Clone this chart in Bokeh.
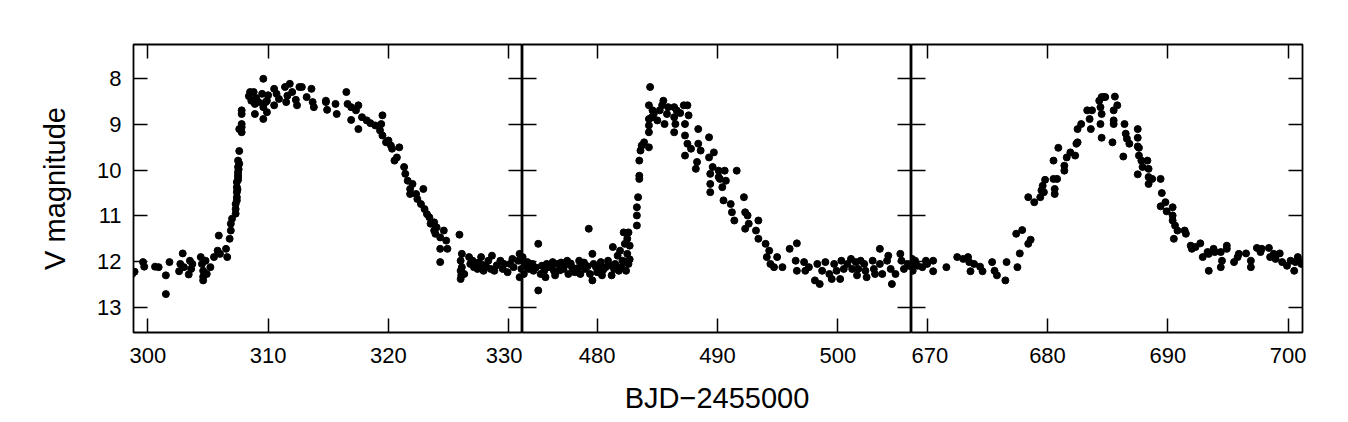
from bokeh.plotting import figure
from bokeh.models import Range1d, FixedTicker, LinearAxis, InlineStyleSheet
from bokeh.layouts import row
from bokeh.embed import file_html
from bokeh.resources import INLINE

# ---------------- data ----------------
p1_day = [298.7, 298.9, 299.6, 299.7, 300.6, 300.9, 301.5, 301.5, 301.8, 302.6, 302.7, 302.9,
          303.0, 303.4, 303.5, 303.6, 303.7, 304.4, 304.5, 304.6, 304.6, 304.6, 304.8, 304.9,
          305.2, 305.5, 305.8, 305.9, 306.0, 306.5, 306.6, 306.8, 306.9, 306.9, 307.0, 307.3,
          307.3, 307.4, 307.4, 307.4, 307.4, 307.5, 307.5, 307.5, 307.5, 307.6, 307.3, 307.4,
          307.45, 307.5, 307.5, 307.55, 307.6, 307.6, 307.8, 307.8, 307.8, 307.8, 307.8,
          308.5, 308.8, 308.6, 308.9, 308.9, 309.2, 309.5, 309.6, 309.6, 309.6, 309.8, 309.9,
          309.9, 310.5, 310.5, 310.7, 311.4, 311.5, 311.6, 311.8, 312.0, 312.3, 312.4, 312.6,
          312.8, 313.6, 313.7, 313.8, 314.8, 314.9, 314.8, 315.6, 315.7, 316.5, 316.6, 316.9,
          316.9, 317.3, 317.5, 317.5, 317.8, 318.2, 318.5, 319.4, 319.5, 319.3, 319.5, 319.8,
          320.0, 320.3, 320.5, 320.7, 320.9, 321.3, 321.4, 321.6, 321.8, 321.8, 322.3, 322.4,
          322.7, 322.9, 323.2, 323.4, 323.5, 323.8, 323.8, 323.9, 324.3, 324.6, 324.8, 324.9,
          325.9, 324.3, 324.3, 326.0, 326.0, 326.0, 326.1, 326.1, 326.3, 326.7, 326.8, 327.0,
          327.1, 327.4, 327.7, 327.8, 327.9, 328.3, 328.5, 328.6, 328.8, 329.3, 329.5, 329.6,
          329.9, 330.3, 330.4, 330.8, 330.9, 331.05, 330.9,
          308.4, 309.0, 310.0, 310.9, 313.2, 318.9, 320.2, 322.0, 323.0, 324.0, 326.05, 327.5,
          328.1, 329.0, 330.1]
p1_mag = [12.27, 12.22, 12.01, 12.11, 12.11, 12.12, 12.30, 12.71, 12.01, 12.21, 12.05, 11.82,
          12.12, 12.28, 11.98, 12.16, 12.05, 11.90, 12.05, 12.20, 12.41, 12.33, 11.98, 12.27,
          12.12, 11.90, 11.76, 11.43, 11.83, 11.72, 11.90, 11.50, 11.32, 11.17, 11.06, 10.85,
          10.74, 10.59, 10.48, 10.37, 10.26, 10.15, 10.04, 9.93, 9.79, 9.58, 10.95, 10.66,
          10.42, 10.21, 10.10, 9.98, 9.86, 9.10, 9.06, 9.17, 8.99, 8.77, 8.69,
          8.29, 8.29, 8.48, 8.55, 8.77, 8.51, 8.33, 8.00, 8.62, 8.88, 8.51, 8.73,
          8.48, 8.22, 8.58, 8.33, 8.18, 8.51, 8.37, 8.11, 8.29, 8.46, 8.58, 8.18,
          8.18, 8.22, 8.51, 8.62, 8.51, 8.68, 8.48, 8.55, 8.77, 8.29, 8.55, 8.62,
          8.90, 8.69, 8.58, 9.10, 8.84, 8.91, 8.97, 8.99, 8.80, 9.13, 9.24, 9.39,
          9.35, 9.53, 9.79, 9.72, 9.50, 9.93, 10.08, 10.23, 10.41, 10.52, 10.52, 10.63,
          10.74, 10.41, 10.96, 11.03, 11.17, 11.14, 11.32, 11.39, 11.47, 11.32, 11.54, 11.72,
          11.41, 11.72, 12.01, 11.98, 12.20, 12.38, 11.83, 12.12, 12.27, 11.90, 12.05, 11.98,
          12.12, 12.16, 11.90, 12.07, 12.20, 11.98, 12.16, 11.87, 12.20, 11.98, 12.16, 12.05,
          12.23, 11.94, 12.12, 11.98, 11.83, 12.16, 12.34,
          8.38, 8.42, 8.36, 8.44, 8.40, 9.02, 9.46, 10.30, 10.85, 11.25, 12.30, 12.02,
          12.10, 12.08, 12.05]

p2_day = [473.8, 473.8, 473.9, 474.2, 474.3, 474.6, 474.7, 475.1, 475.1, 475.3, 475.4, 475.7,
          476.0, 476.3, 476.4, 476.5, 476.7, 477.2, 477.5, 477.6, 477.9, 478.2, 478.5, 478.6,
          478.7, 479.0, 479.3, 479.4, 479.6, 479.6, 479.7, 480.0, 480.3, 480.4, 480.7, 480.9,
          481.2, 481.3, 481.5, 481.7, 481.8, 481.9, 482.1, 482.2, 482.3, 482.4, 482.5, 482.5,
          482.6, 482.6, 474.0, 474.9, 475.8, 476.9, 477.0, 477.8, 478.0, 478.9, 479.9, 480.5,
          481.0, 482.0, 482.7, 482.7,
          483.3, 483.3, 483.3, 483.4, 483.5, 483.5, 483.5, 483.6, 483.7, 483.9, 484.3, 484.3,
          484.3, 484.3, 484.4, 484.3, 484.6, 484.7, 485.0, 485.2, 485.4, 485.5, 485.6, 485.8,
          486.4, 486.4, 486.5, 486.4, 486.6, 487.2, 487.3, 487.3, 487.5, 487.6, 487.5, 487.3,
          487.8, 488.2, 488.3, 488.4, 488.4, 488.6, 489.3, 489.3, 489.4, 489.4, 489.4, 489.6,
          489.7, 490.1, 490.1, 490.2, 490.4, 490.6, 490.7, 490.5, 491.1, 491.2, 491.4, 491.6,
          492.3, 492.2, 492.5, 492.6, 492.3, 493.2, 493.4, 493.4, 494.0, 494.1, 494.3, 494.4,
          494.7, 494.96, 495.4, 496.0, 496.6, 496.5, 496.6, 497.2, 497.3, 497.6, 498.1, 498.3,
          498.5, 498.7, 498.97, 499.3, 499.5, 499.7, 499.9, 500.2, 500.3, 500.5, 500.8, 501.1,
          501.2, 501.5, 501.6, 501.7, 501.9, 502.2, 502.3, 502.4, 502.9, 503.0, 503.1, 503.5,
          503.5, 503.7, 504.1, 504.2, 504.4, 504.5, 504.8, 505.2, 505.3, 505.5, 505.8, 506.05,
          474.4, 475.6, 476.2, 477.4, 478.4, 479.2, 480.2, 481.4, 482.3, 484.5, 485.9, 486.9]
p2_mag = [11.90, 12.09, 12.27, 12.01, 12.16, 12.05, 12.20, 11.61, 12.63, 12.27, 12.09, 12.34,
          12.12, 12.01, 12.20, 12.30, 12.05, 12.16, 11.98, 12.27, 12.12, 12.23, 11.98, 12.27,
          12.09, 12.16, 11.28, 12.27, 11.83, 12.41, 12.05, 12.23, 12.01, 12.30, 12.12, 11.98,
          12.30, 11.68, 12.05, 11.87, 12.20, 11.76, 11.98, 11.36, 11.61, 12.20, 11.50, 11.83,
          11.36, 12.05, 12.10, 12.13, 12.05, 12.19, 12.02, 12.04, 12.22, 12.02, 12.12, 12.18,
          12.08, 12.12, 11.95, 11.65,
          11.21, 10.99, 10.81, 10.59, 10.19, 10.12, 9.79, 9.57, 9.46, 9.39, 9.50, 9.17,
          9.02, 8.88, 8.18, 8.58, 8.69, 8.77, 8.91, 8.69, 8.58, 8.48, 8.99, 8.77,
          8.62, 8.84, 8.99, 9.17, 8.69, 8.58, 8.99, 9.24, 8.58, 8.80, 9.42, 9.68,
          9.53, 9.97, 9.82, 9.10, 9.42, 9.57, 9.28, 9.72, 10.08, 10.30, 10.48, 9.93,
          9.61, 10.15, 10.01, 10.19, 10.37, 10.01, 10.23, 10.66, 10.74, 10.92, 11.10, 10.01,
          10.92, 10.59, 10.99, 11.17, 11.28, 11.32, 11.10, 11.50, 11.61, 11.90, 11.76, 12.05,
          12.12, 11.90, 12.12, 11.72, 11.60, 11.98, 12.20, 12.01, 12.20, 12.12, 12.41, 12.05,
          12.49, 12.20, 12.01, 12.27, 12.38, 12.05, 12.20, 12.38, 11.98, 12.16, 12.05, 11.94,
          12.16, 12.01, 12.30, 12.16, 11.98, 12.05, 12.20, 12.34, 11.98, 12.16, 12.27, 11.72,
          12.05, 12.27, 11.98, 11.87, 12.16, 12.49, 12.27, 11.83, 11.98, 12.16, 12.05, 12.10,
          12.14, 12.20, 12.09, 12.06, 12.14, 12.10, 12.12, 12.16, 12.00, 8.85, 8.62, 8.75]

p3_day = [668.75, 668.9, 668.8, 669.0, 669.2, 669.6, 669.9, 670.0, 670.5, 670.5, 671.6, 672.5,
          673.0, 673.4, 673.5, 673.6, 673.9, 674.4, 674.6, 675.4, 675.6, 675.8, 676.5, 676.6,
          677.5, 677.4, 677.7, 677.9, 678.4, 678.6, 678.4, 678.9, 679.4, 679.5, 679.6, 679.8,
          679.7, 680.5, 680.6, 680.6, 680.5, 680.8, 680.9, 681.4, 681.4, 681.6, 681.9, 682.3,
          682.4, 682.5, 682.5, 682.8, 683.3, 683.5, 683.6, 683.7, 684.3, 684.4, 684.5, 684.5,
          684.7, 684.4, 684.5, 684.8, 685.6, 685.8, 685.5, 685.5, 685.5, 685.4, 686.4, 686.5,
          686.6, 686.8, 686.3, 687.5, 687.5, 687.5, 687.6, 687.6, 687.5, 687.8, 687.9, 688.3,
          688.4, 688.4, 688.4, 688.7, 689.4, 689.5, 689.4, 689.8, 689.9, 690.4, 690.4, 690.4,
          690.6, 690.5, 690.8, 691.4, 691.5, 691.9, 692.0, 692.3, 692.7, 692.9, 693.3, 693.4,
          693.4, 693.8, 693.9, 694.4, 694.5, 694.4, 694.9, 694.9, 695.5, 695.8, 695.9, 696.5,
          696.9, 696.9, 697.4, 697.7, 697.8, 698.4, 698.5, 698.8, 698.95, 699.3, 699.5, 699.9,
          700.2, 700.5, 700.6, 700.8, 700.9, 701.1]
p3_mag = [11.94, 12.05, 12.20, 11.98, 12.09, 12.12, 11.98, 12.05, 11.98, 12.21, 12.12, 11.90,
          11.94, 11.90, 12.01, 12.21, 12.05, 12.11, 12.21, 12.01, 12.20, 12.30, 12.41, 12.01,
          12.12, 11.39, 11.82, 11.31, 11.61, 11.52, 10.59, 10.70, 10.59, 10.44, 10.34, 10.21,
          10.48, 10.19, 10.41, 10.52, 9.79, 10.19, 9.51, 10.01, 9.90, 9.72, 9.61, 9.68,
          9.42, 9.39, 9.10, 8.99, 8.69, 8.88, 9.10, 8.69, 8.48, 8.62, 8.40, 8.77,
          8.40, 8.99, 9.29, 8.40, 8.39, 8.58, 8.69, 8.91, 8.99, 9.39, 8.99, 9.20,
          9.31, 9.42, 9.70, 9.10, 9.29, 9.48, 9.51, 9.68, 10.09, 9.79, 9.93, 9.79,
          9.97, 10.15, 10.30, 10.19, 10.19, 10.50, 10.79, 10.70, 10.90, 10.81, 10.99, 11.10,
          11.21, 11.50, 11.32, 11.32, 11.39, 11.65, 11.72, 11.68, 11.60, 11.90, 11.79, 11.83,
          12.20, 11.72, 11.79, 11.79, 11.98, 12.12, 11.65, 11.72, 12.01, 11.90, 11.83, 11.82,
          11.98, 12.12, 11.70, 11.79, 11.72, 11.70, 11.90, 11.83, 11.94, 11.82, 12.01, 12.09,
          11.98, 12.20, 12.01, 11.90, 11.98, 12.05]

p1_xticks = [300, 310, 320, 330]
p2_xticks = [480, 490, 500]
p3_xticks = [670, 680, 690, 700]
y_ticks = [8, 9, 10, 11, 12, 13]

x_title = "BJD\u22122455000"
y_title = "V magnitude"

# ---------------- styling ----------------
FONT = "Liberation Sans"
TICK_LEN = 14
css = InlineStyleSheet(css=":host{overflow:visible !important;} .bk-Canvas, .bk-layer, svg, canvas {overflow: visible !important;}")


def axis(ticks, labels=True, title=None):
    ax = LinearAxis(ticker=FixedTicker(ticks=ticks))
    ax.major_tick_in = TICK_LEN
    ax.major_tick_out = 0
    ax.major_tick_line_width = 1.5
    ax.major_tick_line_color = "black"
    ax.minor_tick_line_color = None
    ax.axis_line_color = None
    ax.major_label_text_font = FONT
    ax.major_label_text_color = "black"
    if labels:
        ax.major_label_text_font_size = "22px"
        ax.major_label_standoff = 15
    else:
        # tick marks only: empty labels that take no room
        ax.major_label_overrides = {t: "" for t in ticks}
        ax.major_label_text_color = None
        ax.major_label_text_font_size = "10px"
        ax.major_label_standoff = 0
    if title:
        ax.axis_label = title
        ax.axis_label_text_font = FONT
        ax.axis_label_text_font_size = "29px"
        ax.axis_label_text_font_style = "normal"
        ax.axis_label_text_color = "black"
    return ax


def panel(days, mags, xr, xticks, fw, left_border, right_border, ylab=False, xlab=False):
    p = figure(frame_width=fw, frame_height=288,
               x_range=Range1d(*xr), y_range=Range1d(13.55, 7.25),
               x_axis_type=None, y_axis_type=None,
               output_backend="svg", toolbar_location=None,
               min_border_left=left_border, min_border_right=right_border,
               min_border_top=44, min_border_bottom=90,
               background_fill_color=None, border_fill_color=None,
               outline_line_color="black", outline_line_width=1.8,
               stylesheets=[css])
    p.grid.visible = False
    b = axis(xticks, True, x_title if xlab else None)
    if xlab:
        b.axis_label_standoff = 16
    p.add_layout(b, "below")
    p.add_layout(axis(xticks, False), "above")
    l = axis(y_ticks, ylab, y_title if ylab else None)
    if ylab:
        l.major_label_standoff = 12
        l.axis_label_standoff = 23
    p.add_layout(l, "left")
    p.add_layout(axis(y_ticks, False), "right")
    p.scatter(days, mags, size=7, color="black")
    return p


p1 = panel(p1_day, p1_mag, (298.81, 331.14), p1_xticks, 389, 133, 0, ylab=True)
p2 = panel(p2_day, p2_mag, (473.79, 506.13), p2_xticks, 389, 0, 0, xlab=True)
p3 = panel(p3_day, p3_mag, (668.70, 701.19), p3_xticks, 391, 0, 30)

layout = row(p1, p2, p3, stylesheets=[css])

open("out.html", "w").write(file_html(layout, INLINE))
